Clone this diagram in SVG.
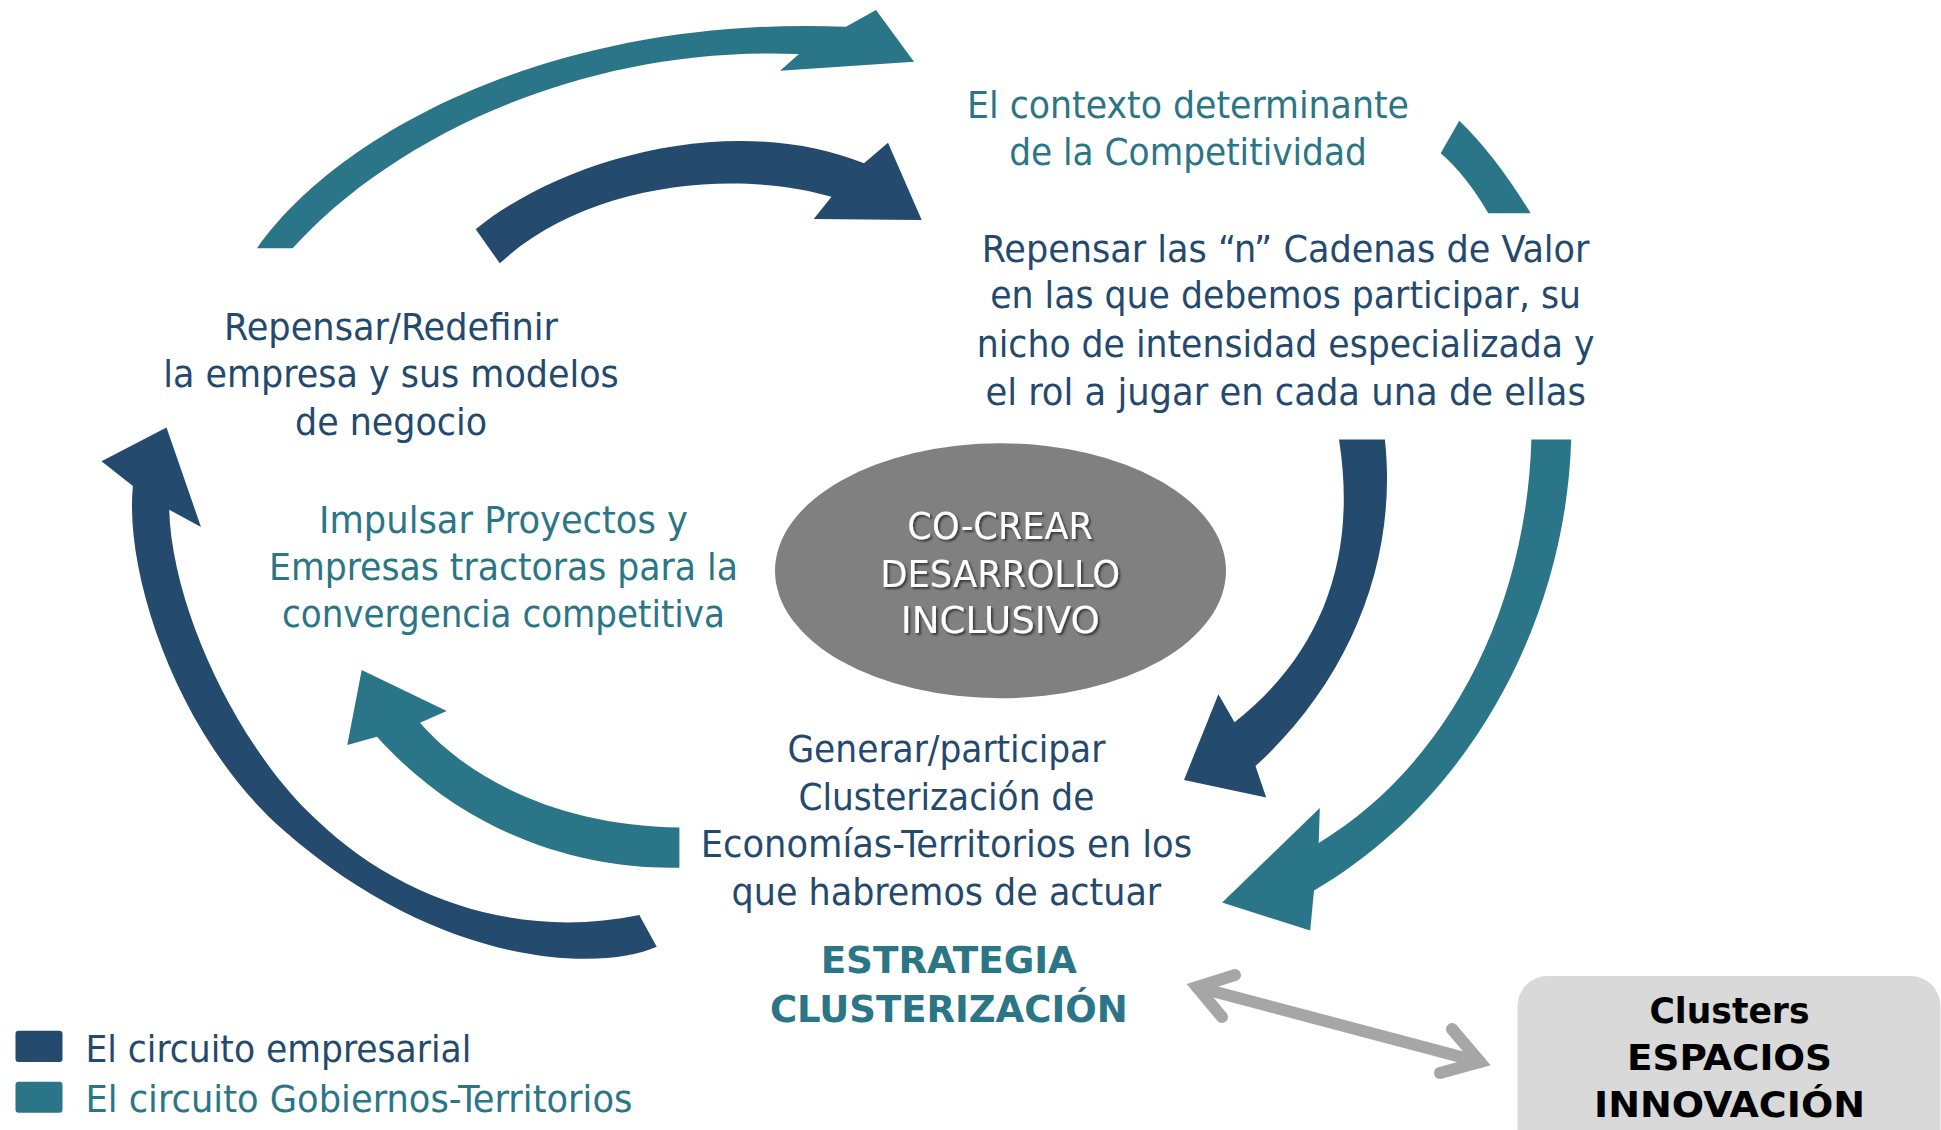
<svg xmlns="http://www.w3.org/2000/svg" width="1941" height="1130" viewBox="0 0 1941 1130">
<style>
.t{font-family:"DejaVu Sans Condensed","DejaVu Sans",sans-serif;font-size:38px;text-anchor:middle}
.dk{fill:#24496e}
.tl{fill:#2a7586}
.b{font-weight:bold}
.afd{fill:#244a6e}
.aft{fill:#2a7587}
.w{fill:#ffffff}
</style>
<defs>
<filter id="sh" x="-10%" y="-20%" width="130%" height="160%">
<feDropShadow dx="2" dy="2" stdDeviation="1" flood-color="#000000" flood-opacity="0.55"/>
</filter>
</defs>
<rect width="1941" height="1130" fill="#ffffff"/>

<g id="connectors">
<!-- top teal arrow -->
<path class="aft" d="M257,248.3 C340,130 560,15 846,26.7 L876,10 L914,61.7 L780,70.7 L799,54 C580,45 390,140 292.7,248.3 Z"/>
<!-- top dark arrow -->
<path class="afd" d="M475.7,229.3 C560,160 730,110 864,163.3 L888,142.7 L921.7,220 L813.7,219 L831.5,196.7 C740,170 590,180 499.8,263.3 Z"/>
<!-- small teal arc top right -->
<path class="aft" d="M1440.7,153.3 L1459.3,120.7 Q1495,155 1530.7,213.3 L1488.3,213.3 Q1466,175 1440.7,153.3 Z"/>
<!-- right dark arrow -->
<path class="afd" d="M1339,439.6 L1384.9,439.6 C1398,560 1350,680 1255.5,766 L1266.2,797.5 L1184,780 L1218.4,694.2 L1234.5,722.2 C1320,655 1358,560 1339,439.6 Z"/>
<!-- right teal arrow -->
<path class="aft" d="M1531.4,439.6 L1571.2,439.6 C1566,620 1470,800 1314,890.4 L1310.2,930.6 L1222.2,902.6 L1319.8,808 L1318.7,843 C1440,770 1526,620 1531.4,439.6 Z"/>
<!-- bottom-left teal arrow -->
<path class="aft" d="M679.4,867.7 C590,870 470,840 377,736.8 L347.3,745 L361.7,670 L446.7,711 L420,722.7 C470,780 560,826 679.4,827.5 Z"/>
<!-- left dark arrow -->
<path class="afd" d="M656.7,946.7 C600,972 440,968 283.3,830 C178.3,738 124,575 132.9,486.1 L101.5,461.2 L166.5,427.6 L201,527 L169.2,509.8 C172,610 240,750 316.7,820 C400,900 520,940 639.3,915 Z"/>
<!-- gray double arrow -->
<g fill="none" stroke="#a6a6a6" stroke-width="12" stroke-linecap="round" stroke-linejoin="miter">
<line x1="1197" y1="987" x2="1480" y2="1062"/>
<polyline points="1235,975 1197,987 1222,1017"/>
<polyline points="1452,1029 1480,1062 1440,1073"/>
</g>
</g>

<g id="node-contexto">
<text class="t tl" x="1188" y="117.7" textLength="442" lengthAdjust="spacingAndGlyphs">El contexto determinante</text>
<text class="t tl" x="1188" y="165" textLength="357.7" lengthAdjust="spacingAndGlyphs">de la Competitividad</text>
</g>

<g id="node-cadenas">
<text class="t dk" x="1285.6" y="261.7" textLength="607.8" lengthAdjust="spacingAndGlyphs">Repensar las “n” Cadenas de Valor</text>
<text class="t dk" x="1285.6" y="308.3" textLength="590.8" lengthAdjust="spacingAndGlyphs">en las que debemos participar, su</text>
<text class="t dk" x="1285.6" y="356.7" textLength="617.7" lengthAdjust="spacingAndGlyphs">nicho de intensidad especializada y</text>
<text class="t dk" x="1285.6" y="405" textLength="600.4" lengthAdjust="spacingAndGlyphs">el rol a jugar en cada una de ellas</text>
</g>

<g id="node-empresa">
<text class="t dk" x="391" y="340" textLength="334" lengthAdjust="spacingAndGlyphs">Repensar/Redefinir</text>
<text class="t dk" x="391" y="387" textLength="455.6" lengthAdjust="spacingAndGlyphs">la empresa y sus modelos</text>
<text class="t dk" x="391" y="435" textLength="192" lengthAdjust="spacingAndGlyphs">de negocio</text>
</g>

<g id="node-impulsar">
<text class="t tl" x="503.5" y="533" textLength="368.9" lengthAdjust="spacingAndGlyphs">Impulsar Proyectos y</text>
<text class="t tl" x="503.5" y="579.5" textLength="469" lengthAdjust="spacingAndGlyphs">Empresas tractoras para la</text>
<text class="t tl" x="503.5" y="626.7" textLength="443" lengthAdjust="spacingAndGlyphs">convergencia competitiva</text>
</g>

<g id="node-cocrear">
<ellipse cx="1000.5" cy="570.8" rx="225.5" ry="127.5" fill="#808080"/>
<g filter="url(#sh)">
<text class="t w" x="1000.2" y="539" textLength="185.7" lengthAdjust="spacingAndGlyphs">CO-CREAR</text>
<text class="t w" x="1000.2" y="586.7" textLength="240" lengthAdjust="spacingAndGlyphs">DESARROLLO</text>
<text class="t w" x="1000.2" y="633.3" textLength="199" lengthAdjust="spacingAndGlyphs">INCLUSIVO</text>
</g>
</g>

<g id="node-generar">
<text class="t dk" x="946.4" y="762.3" textLength="318" lengthAdjust="spacingAndGlyphs">Generar/participar</text>
<text class="t dk" x="946.4" y="810" textLength="296" lengthAdjust="spacingAndGlyphs">Clusterización de</text>
<text class="t dk" x="946.4" y="857.3" textLength="491.3" lengthAdjust="spacingAndGlyphs">Economías-Territorios en los</text>
<text class="t dk" x="946.4" y="905" textLength="429.6" lengthAdjust="spacingAndGlyphs">que habremos de actuar</text>
</g>

<g id="node-estrategia">
<text class="t tl b" x="948.8" y="973.3" textLength="256.3" lengthAdjust="spacingAndGlyphs">ESTRATEGIA</text>
<text class="t tl b" x="948.8" y="1021.7" textLength="357.7" lengthAdjust="spacingAndGlyphs">CLUSTERIZACIÓN</text>
</g>

<g id="node-clusters">
<rect x="1517.5" y="976" width="423" height="200" rx="30" fill="#d9d9d9"/>
<text class="t b" fill="#000000" style="font-size:35px" x="1729.5" y="1023.3" textLength="160" lengthAdjust="spacingAndGlyphs">Clusters</text>
<text class="t b" fill="#000000" style="font-size:35px" x="1729.5" y="1070" textLength="205" lengthAdjust="spacingAndGlyphs">ESPACIOS</text>
<text class="t b" fill="#000000" style="font-size:35px" x="1729.5" y="1116.7" textLength="271" lengthAdjust="spacingAndGlyphs">INNOVACIÓN</text>
</g>

<g id="legend">
<rect class="afd" x="15.5" y="1030.7" width="47" height="31.3" rx="3"/>
<rect class="aft" x="15.5" y="1081.7" width="47" height="31" rx="3"/>
<text class="t dk" style="text-anchor:start" x="85.4" y="1061.7" textLength="386" lengthAdjust="spacingAndGlyphs">El circuito empresarial</text>
<text class="t tl" style="text-anchor:start" x="85.4" y="1111.7" textLength="547" lengthAdjust="spacingAndGlyphs">El circuito Gobiernos-Territorios</text>
</g>
</svg>
